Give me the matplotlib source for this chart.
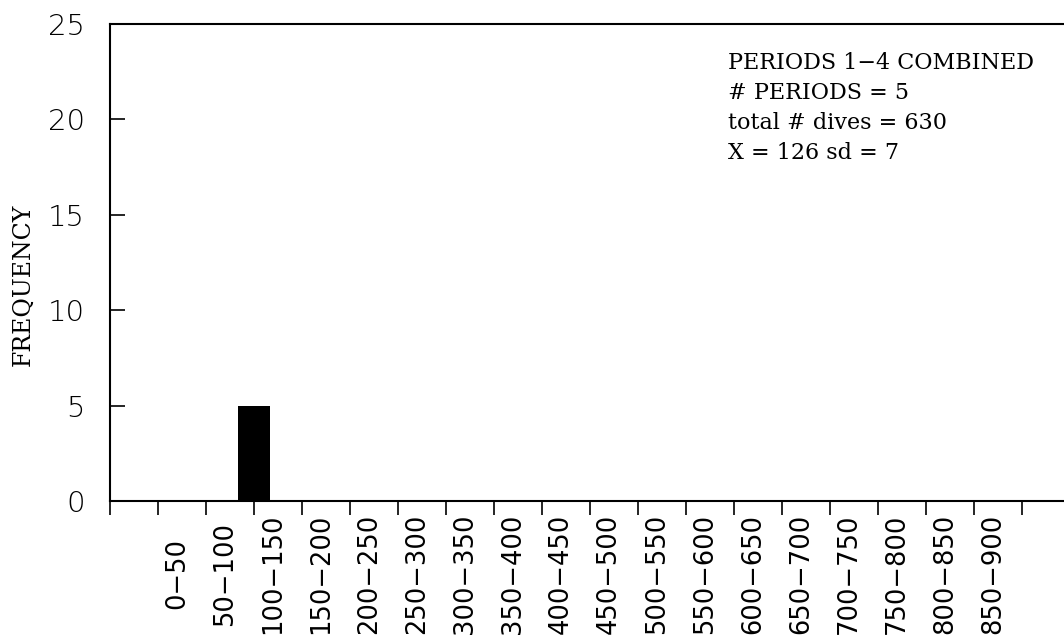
import matplotlib
matplotlib.use("Agg")
import matplotlib.pyplot as plt
import numpy as np

# Dive-duration classes (seconds) and the number of periods in each class
categories = ["0−50", "50−100", "100−150", "150−200", "200−250", "250−300",
              "300−350", "350−400", "400−450", "450−500", "500−550", "550−600",
              "600−650", "650−700", "700−750", "750−800", "800−850", "850−900"]
frequency = [0, 0, 5, 0, 0, 0, 0, 0, 0, 0, 0, 0, 0, 0, 0, 0, 0, 0]
y_ticks = [0, 5, 10, 15, 20, 25]

info_lines = ["PERIODS 1−4 COMBINED",
              "# PERIODS = 5",
              "total # dives = 630",
              "X = 126 sd = 7"]

W, H = 1064, 638
fig = plt.figure(figsize=(W / 100, H / 100), dpi=100)
ax = fig.add_axes([110 / W, 137 / H, 1 - 110 / W, 477 / H])

n = len(categories)
bar_pos = np.arange(n) + 1.0
ax.bar(bar_pos, frequency, width=0.68, color="black", zorder=3)

ax.set_xlim(0, (W - 110) / 48)
ax.set_ylim(0, 25)

# class boundaries as tick marks
ax.set_xticks(np.arange(0, n + 2))
ax.set_xticklabels([])
ax.tick_params(axis="x", which="major", direction="out", length=10,
               width=1.2, color="black")

# class names, rotated and centred on a common line below the axis
label_tf = ax.get_xaxis_transform()
for i, name in enumerate(categories):
    ax.text(i + 1.4, -0.153, name, transform=label_tf, rotation=90,
            fontsize=18.5, family="DejaVu Sans", ha="center", va="center",
            clip_on=False)

ax.set_yticks(y_ticks)
ax.set_yticklabels([str(v) for v in y_ticks], fontsize=21,
                   family="DejaVu Sans", fontweight="light")
ax.tick_params(axis="y", direction="in", length=11, width=1.2, pad=18)

for side in ("left", "top", "bottom"):
    ax.spines[side].set_linewidth(1.5)
    ax.spines[side].set_color("black")
ax.spines["right"].set_visible(False)

fig.text(23 / W, 1 - 285 / H, "FREQUENCY", rotation=90,
         family="DejaVu Serif", fontsize=17, ha="center", va="center")

for k, line in enumerate(info_lines):
    fig.text(728 / W, 1 - (63 + 30 * k) / H, line, fontsize=16,
             family="DejaVu Serif", ha="left", va="center")

fig.savefig("out.png", dpi=100, facecolor="white")
